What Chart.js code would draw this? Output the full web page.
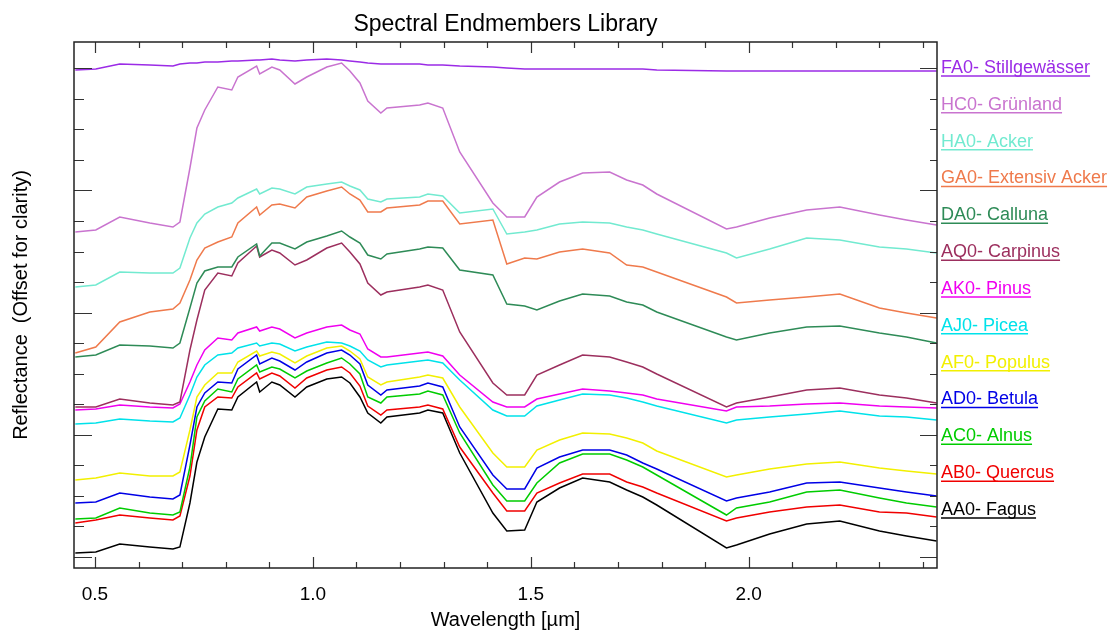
<!DOCTYPE html>
<html>
<head>
<meta charset="utf-8">
<title>Spectral Endmembers Library</title>
<script src="https://cdn.jsdelivr.net/npm/chart.js@4.4.1/dist/chart.umd.min.js"></script>
<style>
  body { margin: 0; background: #fff; }
</style>
</head>
<body>
<canvas id="spektrum" width="1118" height="630"></canvas>
<script>
// Wellenlängen in µm
const wavelength = [0.455, 0.502, 0.557, 0.626, 0.679, 0.695, 0.718, 0.734, 0.752, 0.782,
  0.814, 0.828, 0.871, 0.878, 0.906, 0.924, 0.959, 0.986, 1.032, 1.066,
  1.085, 1.108, 1.126, 1.156, 1.170, 1.245, 1.264, 1.298, 1.337, 1.413,
  1.445, 1.486, 1.514, 1.566, 1.619, 1.681, 1.720, 1.757, 1.789, 1.949,
  1.972, 2.048, 2.133, 2.209, 2.300, 2.362, 2.431];

// Reflektanz (mit Versatz)
const stillgewaesser = [4.87, 4.88, 4.93, 4.92, 4.91, 4.93, 4.94, 4.94, 4.95, 4.95,
  4.96, 4.96, 4.97, 4.97, 4.98, 4.97, 4.96, 4.97, 4.98, 4.97,
  4.96, 4.95, 4.94, 4.93, 4.93, 4.93, 4.92, 4.92, 4.91, 4.90,
  4.89, 4.88, 4.88, 4.88, 4.88, 4.88, 4.88, 4.88, 4.87, 4.86,
  4.86, 4.86, 4.86, 4.86, 4.86, 4.86, 4.86];
const gruenland = [3.25, 3.27, 3.40, 3.34, 3.30, 3.35, 3.89, 4.29, 4.47, 4.70,
  4.67, 4.80, 4.91, 4.83, 4.90, 4.87, 4.73, 4.80, 4.90, 4.94,
  4.86, 4.74, 4.56, 4.44, 4.49, 4.52, 4.54, 4.49, 4.05, 3.54,
  3.40, 3.40, 3.60, 3.75, 3.84, 3.85, 3.77, 3.72, 3.63, 3.28,
  3.30, 3.39, 3.47, 3.50, 3.42, 3.37, 3.32];
const acker = [2.70, 2.72, 2.85, 2.84, 2.84, 2.89, 3.19, 3.34, 3.43, 3.50,
  3.54, 3.59, 3.68, 3.63, 3.69, 3.68, 3.63, 3.70, 3.73, 3.75,
  3.71, 3.67, 3.58, 3.55, 3.58, 3.60, 3.63, 3.61, 3.44, 3.48,
  3.23, 3.25, 3.27, 3.33, 3.35, 3.34, 3.30, 3.27, 3.23, 3.04,
  2.99, 3.08, 3.19, 3.17, 3.10, 3.08, 3.04];
const extensivAcker = [2.04, 2.10, 2.35, 2.45, 2.48, 2.54, 2.77, 2.97, 3.09, 3.15,
  3.20, 3.34, 3.50, 3.42, 3.52, 3.53, 3.49, 3.60, 3.66, 3.70,
  3.63, 3.57, 3.45, 3.45, 3.49, 3.52, 3.56, 3.56, 3.33, 3.37,
  2.93, 2.99, 2.98, 3.05, 3.08, 3.04, 2.92, 2.90, 2.85, 2.60,
  2.54, 2.57, 2.60, 2.63, 2.49, 2.44, 2.39];
const calluna = [2.00, 2.02, 2.12, 2.11, 2.09, 2.14, 2.49, 2.74, 2.86, 2.90,
  2.90, 3.00, 3.13, 3.01, 3.14, 3.14, 3.08, 3.15, 3.21, 3.26,
  3.20, 3.14, 3.02, 2.98, 3.03, 3.08, 3.10, 3.09, 2.87, 2.82,
  2.53, 2.51, 2.47, 2.56, 2.63, 2.61, 2.55, 2.52, 2.45, 2.20,
  2.17, 2.24, 2.30, 2.31, 2.24, 2.20, 2.14];
const carpinus = [1.50, 1.50, 1.58, 1.54, 1.52, 1.55, 2.07, 2.37, 2.67, 2.84,
  2.81, 2.94, 3.11, 3.00, 3.07, 3.04, 2.92, 2.97, 3.09, 3.14,
  3.05, 2.93, 2.74, 2.62, 2.65, 2.70, 2.72, 2.67, 2.25, 1.74,
  1.62, 1.62, 1.82, 1.92, 2.02, 2.00, 1.95, 1.90, 1.83, 1.50,
  1.54, 1.60, 1.67, 1.69, 1.62, 1.59, 1.54];
const pinus = [1.47, 1.48, 1.52, 1.50, 1.49, 1.53, 1.75, 1.92, 2.07, 2.19,
  2.17, 2.24, 2.30, 2.26, 2.30, 2.28, 2.19, 2.24, 2.30, 2.32,
  2.27, 2.23, 2.08, 2.00, 2.00, 2.04, 2.05, 2.01, 1.82, 1.55,
  1.50, 1.50, 1.58, 1.63, 1.68, 1.66, 1.64, 1.62, 1.58, 1.46,
  1.50, 1.51, 1.53, 1.54, 1.51, 1.50, 1.49];
const picea = [1.33, 1.34, 1.38, 1.36, 1.35, 1.39, 1.62, 1.80, 1.92, 2.02,
  2.04, 2.09, 2.14, 2.11, 2.14, 2.13, 2.06, 2.10, 2.15, 2.14,
  2.11, 2.06, 1.97, 1.90, 1.92, 1.96, 1.97, 1.94, 1.77, 1.47,
  1.41, 1.41, 1.51, 1.57, 1.63, 1.62, 1.59, 1.55, 1.51, 1.34,
  1.37, 1.40, 1.43, 1.46, 1.41, 1.40, 1.37];
const populus = [0.77, 0.79, 0.84, 0.81, 0.81, 0.85, 1.27, 1.60, 1.72, 1.84,
  1.84, 1.95, 2.06, 2.01, 2.05, 2.03, 1.94, 2.01, 2.09, 2.11,
  2.06, 1.98, 1.80, 1.72, 1.75, 1.80, 1.82, 1.79, 1.50, 1.04,
  0.90, 0.90, 1.07, 1.17, 1.24, 1.23, 1.19, 1.14, 1.06, 0.80,
  0.82, 0.88, 0.93, 0.95, 0.89, 0.86, 0.83];
const betula = [0.54, 0.55, 0.64, 0.60, 0.58, 0.62, 1.12, 1.50, 1.64, 1.75,
  1.74, 1.88, 2.02, 1.93, 1.99, 1.96, 1.87, 1.95, 2.04, 2.07,
  2.02, 1.93, 1.72, 1.62, 1.67, 1.71, 1.74, 1.70, 1.30, 0.82,
  0.68, 0.68, 0.89, 1.00, 1.07, 1.07, 1.02, 0.94, 0.88, 0.56,
  0.59, 0.65, 0.74, 0.75, 0.69, 0.65, 0.61];
const alnus = [0.38, 0.39, 0.49, 0.44, 0.42, 0.45, 0.90, 1.40, 1.56, 1.68,
  1.65, 1.78, 1.92, 1.85, 1.90, 1.88, 1.79, 1.86, 1.94, 1.99,
  1.93, 1.83, 1.60, 1.54, 1.60, 1.63, 1.66, 1.62, 1.24, 0.72,
  0.56, 0.56, 0.74, 0.94, 1.03, 1.03, 0.97, 0.90, 0.82, 0.42,
  0.49, 0.55, 0.65, 0.67, 0.59, 0.54, 0.50];
const quercus = [0.34, 0.37, 0.42, 0.39, 0.37, 0.41, 0.81, 1.27, 1.50, 1.60,
  1.59, 1.70, 1.84, 1.78, 1.84, 1.81, 1.69, 1.79, 1.87, 1.90,
  1.84, 1.71, 1.51, 1.42, 1.47, 1.50, 1.52, 1.48, 1.10, 0.64,
  0.46, 0.46, 0.64, 0.74, 0.83, 0.83, 0.75, 0.70, 0.64, 0.36,
  0.39, 0.45, 0.50, 0.52, 0.45, 0.44, 0.40];
const fagus = [0.04, 0.05, 0.13, 0.10, 0.08, 0.10, 0.54, 0.95, 1.20, 1.48,
  1.47, 1.60, 1.75, 1.65, 1.75, 1.72, 1.60, 1.70, 1.78, 1.80,
  1.74, 1.60, 1.44, 1.34, 1.40, 1.44, 1.47, 1.44, 1.04, 0.44,
  0.26, 0.27, 0.55, 0.69, 0.79, 0.75, 0.67, 0.60, 0.52, 0.09,
  0.12, 0.23, 0.33, 0.36, 0.26, 0.21, 0.16];

const names = ["FA0- Stillgewässer", "HC0- Grünland", "HA0- Acker", "GA0- Extensiv Acker",
  "DA0- Calluna", "AQ0- Carpinus", "AK0- Pinus", "AJ0- Picea", "AF0- Populus",
  "AD0- Betula", "AC0- Alnus", "AB0- Quercus", "AA0- Fagus"];
const series = [stillgewaesser, gruenland, acker, extensivAcker, calluna, carpinus,
  pinus, picea, populus, betula, alnus, quercus, fagus];
const colors = ["#9b2be6", "#c974cf", "#72ead0", "#ef7a4c", "#2e8b57", "#9c2f5e",
  "#f000f0", "#00e2ea", "#f2f000", "#0000e6", "#00cc00", "#f00000", "#000000"];

const xTicks = [0.5, 0.6, 0.7, 0.8, 0.9, 1.0, 1.1, 1.2, 1.3, 1.4,
  1.5, 1.6, 1.7, 1.8, 1.9, 2.0, 2.1, 2.2, 2.3, 2.4];
const yTicks = [0, 0.306, 0.611, 0.917, 1.222, 1.528, 1.833, 2.139, 2.444,
  2.75, 3.055, 3.361, 3.666, 3.972, 4.277, 4.583, 4.888];

function isMajor(v) {
  return Math.abs(v * 2 - Math.round(v * 2)) < 1e-6;
}

// Rahmen mit Ticks nach innen (alle vier Seiten)
const rahmen = {
  id: "rahmen",
  afterDatasetsDraw(chart) {
    const { ctx, chartArea: a, scales: { x, y } } = chart;
    ctx.save();
    ctx.strokeStyle = "#333";
    ctx.lineWidth = 1.2;
    ctx.beginPath();
    x.ticks.forEach((t) => {
      const px = Math.round(x.getPixelForValue(t.value)) + 0.5;
      const len = isMajor(t.value) ? 11 : 6;
      ctx.moveTo(px, a.bottom);
      ctx.lineTo(px, a.bottom - len);
      ctx.moveTo(px, a.top);
      ctx.lineTo(px, a.top + len);
    });
    y.ticks.forEach((t, i) => {
      const py = Math.round(y.getPixelForValue(t.value)) + 0.5;
      const major = i % 4 === 0;
      ctx.moveTo(a.left, py);
      ctx.lineTo(a.left + (major ? 18 : 10), py);
      ctx.moveTo(a.right, py);
      ctx.lineTo(a.right - (major ? 17 : 7), py);
    });
    ctx.stroke();
    ctx.strokeStyle = "#222";
    ctx.lineWidth = 1.5;
    ctx.strokeRect(a.left, a.top, a.right - a.left, a.bottom - a.top);
    ctx.restore();
  }
};

// Beschriftung rechts, unterstrichen
const beschriftung = {
  id: "beschriftung",
  afterDraw(chart) {
    const { ctx, chartArea: a } = chart;
    ctx.save();
    ctx.font = '18px "Liberation Sans", Arial, sans-serif';
    ctx.textBaseline = "middle";
    chart.data.datasets.forEach((ds, i) => {
      const tx = a.right + 4;
      const ty = a.top + 26 + i * 36.83;
      ctx.fillStyle = ds.borderColor;
      ctx.fillText(ds.label, tx, ty);
      const w = ctx.measureText(ds.label).width;
      ctx.strokeStyle = ds.borderColor;
      ctx.lineWidth = 1.5;
      ctx.beginPath();
      ctx.moveTo(tx, ty + 8);
      ctx.lineTo(tx + w, ty + 8);
      ctx.stroke();
    });
    ctx.restore();
  }
};

Chart.defaults.font.family = '"Liberation Sans", Arial, sans-serif';
Chart.defaults.color = "#000";

new Chart(document.getElementById("spektrum"), {
  type: "line",
  data: {
    datasets: series.map((s, i) => ({
      label: names[i],
      data: s.map((v, j) => ({ x: wavelength[j], y: v })),
      borderColor: colors[i],
      backgroundColor: colors[i],
      borderWidth: 1.5,
      pointRadius: 0,
      tension: 0,
      fill: false,
    })),
  },
  options: {
    responsive: false,
    animation: false,
    layout: { padding: { left: 0, right: 181, top: 0, bottom: 0 } },
    plugins: {
      legend: { display: false },
      tooltip: { enabled: false },
      title: {
        display: true,
        text: "Spectral Endmembers Library",
        fullSize: false,
        color: "#000",
        font: { size: 23, weight: "normal" },
        padding: { top: 11, bottom: 3.4 },
      },
    },
    scales: {
      x: {
        type: "linear",
        min: 0.452,
        max: 2.432,
        afterBuildTicks: (scale) => {
          scale.ticks = xTicks.map((v) => ({ value: v }));
        },
        afterFit: (scale) => {
          scale.height = 62;
        },
        grid: { display: false, drawTicks: false },
        border: { display: false },
        ticks: {
          autoSkip: false,
          maxRotation: 0,
          padding: 15,
          font: { size: 19 },
          callback: (v) => (isMajor(v) ? v.toFixed(1) : ""),
        },
        title: {
          display: true,
          text: "Wavelength [µm]",
          font: { size: 20 },
          padding: { top: 0, bottom: -2 },
        },
      },
      y: {
        min: -0.11,
        max: 5.15,
        afterBuildTicks: (scale) => {
          scale.ticks = yTicks.map((v) => ({ value: v }));
        },
        afterFit: (scale) => {
          scale.width = 74;
        },
        grid: { display: false, drawTicks: false },
        border: { display: false },
        ticks: { display: false },
        title: {
          display: true,
          text: "Reflectance  (Offset for clarity)",
          font: { size: 20 },
          padding: { top: 9, bottom: 0 },
        },
      },
    },
  },
  plugins: [rahmen, beschriftung],
});
</script>
</body>
</html>
